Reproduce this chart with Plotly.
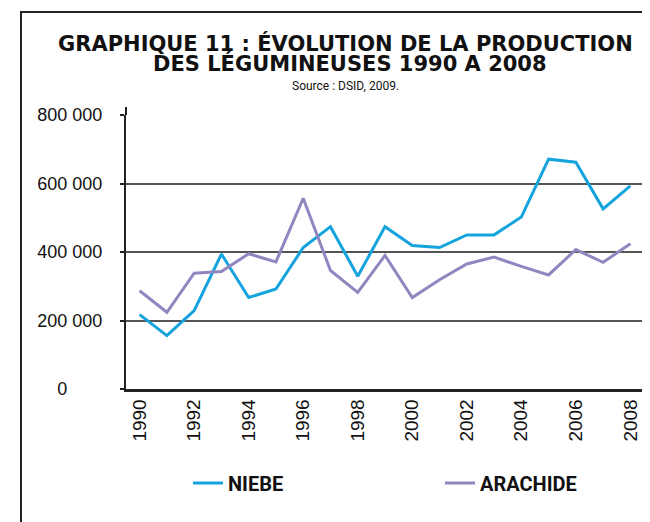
import plotly.graph_objects as go

years = [str(y) for y in range(1990, 2009)]
niebe = [217000, 156000, 229000, 394000, 267000, 292000, 413000, 474000, 329000, 474000,
         419000, 413000, 450000, 450000, 502000, 671000, 662000, 526000, 593000]
arachide = [287000, 224000, 338000, 343000, 395000, 371000, 557000, 346000, 282000, 390000,
            267000, 319000, 365000, 385000, 358000, 333000, 407000, 370000, 424000]
ytick_vals = [0, 200000, 400000, 600000, 800000]
ytick_text = ["0" + "\u00a0" * 7, "200 000", "400 000", "600 000", "800 000"]
xtick_vals = [str(y) for y in range(1990, 2009, 2)]

fig = go.Figure()
fig.add_trace(go.Scatter(x=years, y=niebe, mode="lines", name="NIEBE",
                         line=dict(color="#14a3dc", width=3)))
fig.add_trace(go.Scatter(x=years, y=arachide, mode="lines", name="ARACHIDE",
                         line=dict(color="#9186bf", width=3)))

OFF = 8  # page body margin
W, H = 650 - OFF, 522 - OFF
L, T = 126 - OFF, 115 - OFF
R = W - (644 - OFF)
B = H - (389 - OFF)
pw, ph = W - L - R, H - T - B

def px(x):
    return (x - OFF - L) / pw

def py(y):
    return (H - B - (y - OFF)) / ph

fig.update_layout(
    width=W, height=H,
    margin=dict(l=L, r=R, t=T, b=B, autoexpand=False),
    paper_bgcolor="white", plot_bgcolor="white",
    showlegend=True,
    legend=dict(orientation="h", x=px(188), y=py(483), yanchor="middle", xanchor="left",
                font=dict(family="Roboto, sans-serif", size=20, color="#111", weight="bold"),
                entrywidth=207, entrywidthmode="pixels", itemwidth=30,
                bgcolor="rgba(0,0,0,0)"),
    font=dict(family="Liberation Sans, Arial, sans-serif", color="#111"),
    xaxis=dict(type="category", range=[-0.5, 18.5], tickmode="array", tickvals=xtick_vals,
               ticktext=xtick_vals, tickangle=-90, showgrid=False, zeroline=False,
               showline=True, linecolor="#222", linewidth=2.5, ticks="",
               tickfont=dict(family="Liberation Sans, sans-serif", size=19, color="#111"),
               fixedrange=True),
    yaxis=dict(range=[0, 800000], tickmode="array", tickvals=ytick_vals, ticktext=ytick_text,
               showgrid=True, gridcolor="#555", gridwidth=1.5, zeroline=False,
               showline=True, linecolor="#222", linewidth=2, ticks="outside", ticklen=4,
               tickcolor="#222", tickwidth=1.5, ticklabelstandoff=14,
               tickfont=dict(family="Liberation Sans, sans-serif", size=18, color="#111"),
               fixedrange=True),
)

TF = dict(family="DejaVu Sans, sans-serif", size=21, color="#111", weight="bold")
fig.add_annotation(text="GRAPHIQUE 11 : ÉVOLUTION DE LA PRODUCTION", xref="paper", yref="paper",
                   x=px(345), y=py(43), xanchor="center", yanchor="middle", showarrow=False, font=TF)
fig.add_annotation(text="DES LÉGUMINEUSES 1990 A 2008", xref="paper", yref="paper",
                   x=px(350), y=py(63), xanchor="center", yanchor="middle", showarrow=False, font=TF)
fig.add_annotation(text="Source : DSID, 2009.", xref="paper", yref="paper",
                   x=px(345), y=py(86), xanchor="center", yanchor="middle", showarrow=False,
                   font=dict(family="Roboto, sans-serif", size=12, color="#111"))

# frame lines
fig.add_shape(type="line", xref="paper", yref="paper", x0=px(21), x1=px(21), y0=py(11), y1=py(522),
              line=dict(color="#222", width=2))
fig.add_shape(type="line", xref="paper", yref="paper", x0=px(20), x1=px(650), y0=py(12), y1=py(12),
              line=dict(color="#222", width=2))
# y axis extension above the top gridline
fig.add_shape(type="line", xref="paper", yref="paper", x0=0, x1=0, y0=1, y1=py(107),
              line=dict(color="#222", width=2))

fig.write_html("out.html")
